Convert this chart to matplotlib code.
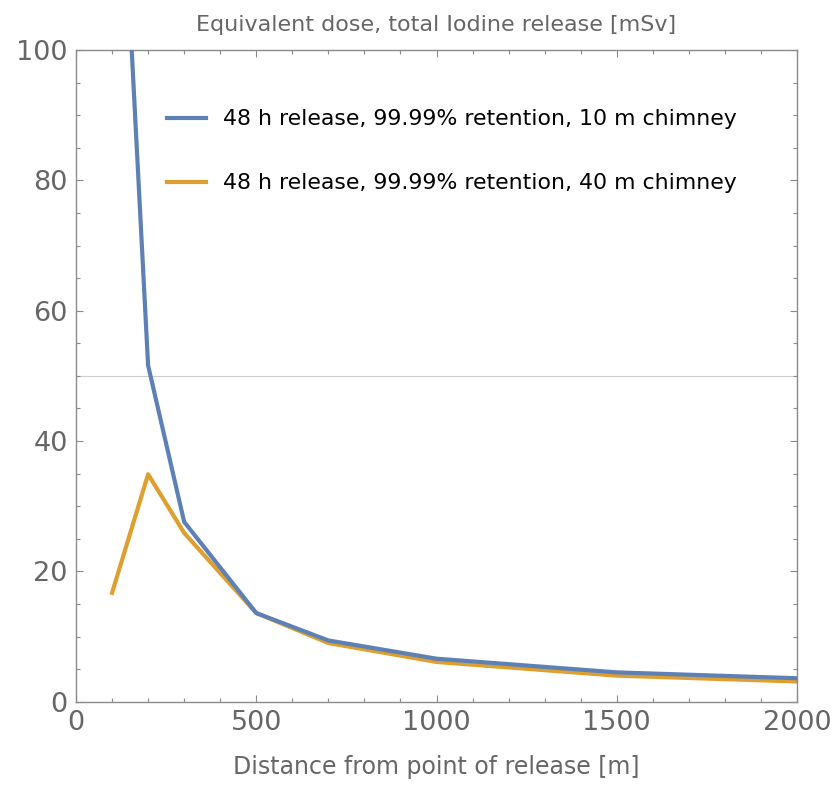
import matplotlib.pyplot as plt
from matplotlib.ticker import MultipleLocator

plt.rcParams["font.family"] = ["DejaVu Sans"]

distance = [100, 200, 300, 500, 700, 1000, 1500, 2000]
dose_10m = [158, 51.6, 27.6, 13.6, 9.4, 6.6, 4.5, 3.6]
dose_40m = [16.7, 34.9, 25.9, 13.6, 9.0, 6.1, 4.0, 3.1]

label_10m = "48 h release, 99.99% retention, 10 m chimney"
label_40m = "48 h release, 99.99% retention, 40 m chimney"

blue = "#5E81B5"
orange = "#DF9F2E"
grey = "#666666"

fig = plt.figure(figsize=(8.39, 7.85), dpi=100)
ax = fig.add_axes([76 / 839, 1 - 701.7 / 785, 721 / 839, 651.7 / 785])

ax.axhline(50, color="#cfcfcf", lw=0.8, zorder=1)
ax.plot(distance, dose_10m, color=blue, lw=3, label=label_10m, zorder=3)
ax.plot(distance, dose_40m, color=orange, lw=3, label=label_40m, zorder=2)

ax.set_xlim(0, 2000)
ax.set_ylim(0, 100)

ax.xaxis.set_major_locator(MultipleLocator(500))
ax.xaxis.set_minor_locator(MultipleLocator(100))
ax.yaxis.set_major_locator(MultipleLocator(20))
ax.yaxis.set_minor_locator(MultipleLocator(5))

for s in ax.spines.values():
    s.set_color("#8a8a8a")
    s.set_linewidth(1.0)

ax.tick_params(which="both", direction="in", top=True, right=True,
               color="#8a8a8a", labelcolor=grey, labelsize=19.5, width=0.8)
ax.tick_params(which="major", length=5, pad=6)
ax.tick_params(which="minor", length=3)

ax.set_title("Equivalent dose, total Iodine release [mSv]",
             color=grey, fontsize=16, pad=14)
ax.set_xlabel("Distance from point of release [m]", color=grey,
              fontsize=17, labelpad=14)

ax.legend(loc="upper left", bbox_to_anchor=(0.126, 0.909), frameon=False,
          fontsize=15.8, handlelength=1.8, handletextpad=0.75,
          labelspacing=2.0, borderpad=0, borderaxespad=0)

fig.savefig("out.png", dpi=100)
